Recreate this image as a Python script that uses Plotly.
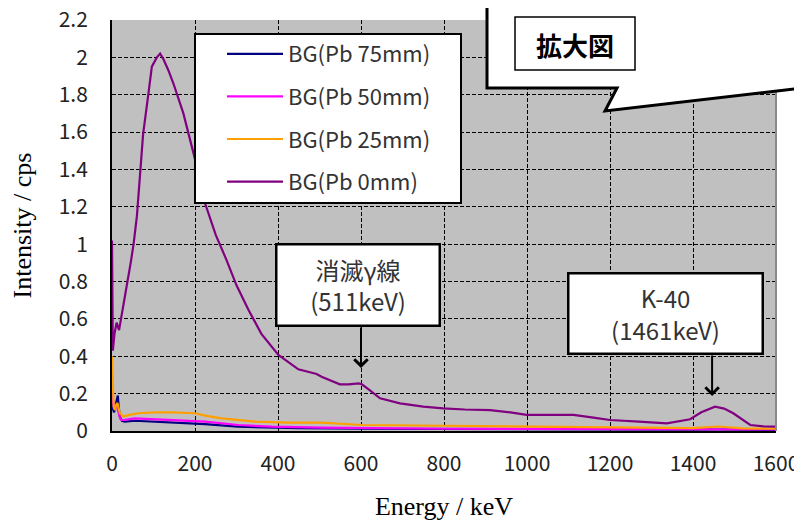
import plotly.graph_objects as go

# ---------------- data ----------------
series_names = ["BG(Pb 75mm)", "BG(Pb 50mm)", "BG(Pb 25mm)", "BG(Pb 0mm)"]
series_colors = ["#000080", "#FF00FF", "#FFA000", "#800080"]

energy_75 = [0, 2, 5, 9, 12, 14, 16, 19, 24, 31, 55, 104, 184, 224, 304, 385, 450, 602, 800, 1000, 1200, 1400, 1460, 1600]
cps_75 = [0.2, 0.12, 0.1, 0.14, 0.18, 0.19, 0.13, 0.077, 0.055, 0.05, 0.055, 0.05, 0.043, 0.037, 0.023, 0.018, 0.015, 0.012, 0.01, 0.009, 0.008, 0.007, 0.008, 0.006]

energy_50 = [0, 2, 5, 9, 12, 16, 20, 23, 31, 55, 104, 184, 224, 304, 385, 505, 602, 800, 1000, 1200, 1400, 1460, 1600]
cps_50 = [0.3, 0.17, 0.12, 0.14, 0.13, 0.09, 0.065, 0.059, 0.06, 0.068, 0.062, 0.055, 0.05, 0.032, 0.023, 0.018, 0.015, 0.012, 0.011, 0.01, 0.009, 0.011, 0.008]

energy_25 = [0, 2, 4, 7, 10, 13, 19, 27, 40, 63, 104, 144, 200, 224, 264, 345, 425, 505, 602, 800, 1000, 1200, 1400, 1460, 1520, 1600]
cps_25 = [0.4, 0.24, 0.13, 0.112, 0.14, 0.15, 0.095, 0.077, 0.085, 0.095, 0.1, 0.1, 0.095, 0.082, 0.068, 0.05, 0.045, 0.045, 0.032, 0.028, 0.024, 0.02, 0.015, 0.024, 0.014, 0.012]

energy_0 = [0, 2, 6, 11, 17, 23, 31, 45, 52, 60, 68, 75, 88, 96, 108, 116, 124, 136, 148, 172, 196, 212, 224, 250, 276,
            300, 329, 360, 401, 449, 493, 505, 549, 570, 594, 602, 620, 646, 694, 750, 798, 850, 911, 960, 999, 1050,
            1112, 1160, 1200, 1270, 1337, 1393, 1420, 1453, 1475, 1497, 1538, 1570, 1600]
cps_0 = [1.02, 0.43, 0.52, 0.58, 0.54, 0.61, 0.72, 0.9, 1.0, 1.15, 1.38, 1.59, 1.81, 1.95, 2.0, 2.02, 1.99, 1.93, 1.86, 1.7, 1.49, 1.35, 1.22, 1.05, 0.915,
         0.78, 0.648, 0.52, 0.407, 0.33, 0.305, 0.29, 0.25, 0.25, 0.255, 0.25, 0.22, 0.175, 0.148, 0.13, 0.121, 0.115, 0.112, 0.1, 0.086, 0.085,
         0.086, 0.072, 0.059, 0.05, 0.041, 0.063, 0.1, 0.13, 0.12, 0.095, 0.032, 0.025, 0.023]

x_range = [0, 1600]
y_range = [0, 2.2]
x_ticks = [0, 200, 400, 600, 800, 1000, 1200, 1400, 1600]
y_ticks = [0, 0.2, 0.4, 0.6, 0.8, 1, 1.2, 1.4, 1.6, 1.8, 2, 2.2]
y_tick_labels = ["0", "0.2", "0.4", "0.6", "0.8", "1", "1.2", "1.4", "1.6", "1.8", "2", "2.2"]

annotation_1 = {"text": "消滅γ線<br>(511keV)", "peak": 600, "level": 0.337}
annotation_2 = {"text": "K-40<br>(1461keV)", "peak": 1446, "level": 0.187}

# ---------------- figure ----------------
# page body has an 8px default margin, so the figure is offset by 8px
OFF = 8
W, H = 802 - OFF, 521 - OFF
PL, PR, PT, PB = 112, 776, 20, 431          # plot area in window pixels
L, R, T, B = PL - OFF, 802 - PR, PT - OFF, 521 - PB
PW, PH = PR - PL, PB - PT


def px(xp):
    return (xp - PL) / PW


def py(yp):
    return (PB - yp) / PH


def dx(xp):
    return (xp - PL) / PW * (x_range[1] - x_range[0])


def dy(yp):
    return (PB - yp) / PH * (y_range[1] - y_range[0])


fig = go.Figure()
all_x = [energy_75, energy_50, energy_25, energy_0]
all_y = [cps_75, cps_50, cps_25, cps_0]
for i, (name, col) in enumerate(zip(series_names, series_colors)):
    fig.add_trace(go.Scatter(x=all_x[i], y=all_y[i], mode="lines", name=name,
                             line=dict(color=col, width=2.2), legendgroup=f"g{i}"))

tick_font = dict(family="Noto Sans CJK JP, sans-serif", size=21, color="#222")
title_font = dict(family="Times New Roman, Liberation Serif, serif", size=26, color="#000")

fig.update_layout(
    width=W, height=H,
    margin=dict(l=L, r=R, t=T, b=B, pad=0, autoexpand=False),
    paper_bgcolor="white",
    plot_bgcolor="#C0C0C0",
    showlegend=True,
    legend=dict(
        x=px(222), y=py(33), xanchor="left", yanchor="top",
        bgcolor="rgba(0,0,0,0)", borderwidth=0,
        font=dict(family="Noto Sans CJK JP, sans-serif", size=22, color="#333"),
        tracegroupgap=11, itemwidth=56,
    ),
    xaxis=dict(
        range=x_range, tickmode="array", tickvals=x_ticks, automargin=False,
        showgrid=True, gridcolor="#000", griddash="4px,2px", gridwidth=1,
        showline=True, linecolor="#000", linewidth=2, zeroline=False,
        ticks="", ticklabelstandoff=13, tickfont=tick_font, ticklabeloverflow="allow",
        title=dict(text="Energy / keV", font=title_font, standoff=22),
    ),
    yaxis=dict(
        range=y_range, tickmode="array", tickvals=y_ticks, ticktext=y_tick_labels, automargin=False,
        showgrid=True, gridcolor="#000", griddash="4px,2px", gridwidth=1,
        showline=True, linecolor="#000", linewidth=2, zeroline=False,
        ticks="", ticklabelstandoff=18, tickfont=tick_font, ticklabeloverflow="allow",
        title=dict(text="Intensity / cps", font=title_font, standoff=39),
    ),
)

shapes = []
# right border of plot area
shapes.append(dict(type="line", xref="paper", yref="paper", x0=1, x1=1, y0=0, y1=1,
                   line=dict(color="#8a8a8a", width=2), layer="above"))
# legend frame
shapes.append(dict(type="rect", xref="paper", yref="paper", x0=px(195), x1=px(461), y0=py(203), y1=py(34),
                   fillcolor="white", line=dict(color="#000", width=2), layer="above"))
# speech bubble callout
path = (f"M{px(487)},{py(-10)} L{px(487)},{py(88)} L{px(617)},{py(88)} L{px(605)},{py(111)} "
        f"L{px(812)},{py(87)} L{px(812)},{py(-10)} Z")
shapes.append(dict(type="path", xref="paper", yref="paper", path=path,
                   fillcolor="white", line=dict(color="#000", width=3), layer="above"))
# inner title box
shapes.append(dict(type="rect", xref="paper", yref="paper", x0=px(515), x1=px(635), y0=py(70), y1=py(17),
                   fillcolor="white", line=dict(color="#000", width=1.5), layer="above"))
fig.update_layout(shapes=shapes)

ann_font = dict(family="Noto Sans CJK JP, sans-serif", size=24, color="#333")
annotations = [
    dict(xref="paper", yref="paper", x=px(575), y=py(44), xanchor="center", yanchor="middle",
         text="<b>拡大図</b>", showarrow=False,
         font=dict(family="Noto Sans CJK JP, sans-serif", size=26, color="#000")),
    # boxes
    dict(xref="x", yref="y", x=dx(358), y=dy(285), xanchor="center", yanchor="middle",
         text=annotation_1["text"], showarrow=False,
         bgcolor="white", bordercolor="#000", borderwidth=2.5, borderpad=1, width=159, height=77,
         font=ann_font),
    dict(xref="x", yref="y", x=dx(665.5), y=dy(313.5), xanchor="center", yanchor="middle",
         text=annotation_2["text"], showarrow=False,
         bgcolor="white", bordercolor="#000", borderwidth=2.5, borderpad=1, width=190, height=76,
         font=ann_font),
    # arrows
    dict(xref="x", yref="y", x=annotation_1["peak"], y=annotation_1["level"], text="", showarrow=True,
         ax=0, ay=-42, arrowhead=4, arrowsize=1.3, arrowwidth=2, arrowcolor="#000", standoff=0),
    dict(xref="x", yref="y", x=annotation_2["peak"], y=annotation_2["level"], text="", showarrow=True,
         ax=0, ay=-42, arrowhead=4, arrowsize=1.3, arrowwidth=2, arrowcolor="#000", standoff=0),
]
fig.update_layout(annotations=annotations)

fig.write_html("out.html")
